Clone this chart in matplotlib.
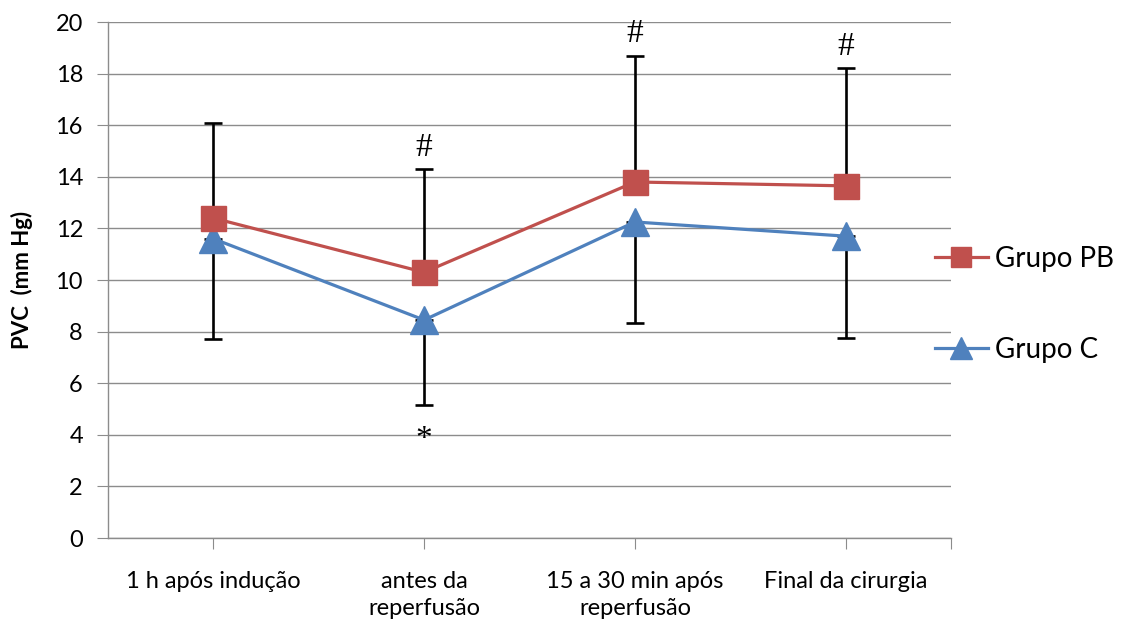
import matplotlib
matplotlib.use("Agg")
import matplotlib.pyplot as plt
import numpy as np

# ---------- data ----------
categories = ["1 h após indução", "antes da\nreperfusão",
              "15 a 30 min após\nreperfusão", "Final da cirurgia"]
pvc_pb = [12.4, 10.3, 13.8, 13.65]
pvc_c = [11.6, 8.45, 12.25, 11.7]
sd_pb = [3.7, 4.0, 4.9, 4.55]     # upper bars, Grupo PB
sd_c = [3.9, 3.3, 3.9, 3.95]      # lower bars, Grupo C
marks_top = ["", "#", "#", "#"]
marks_bottom = ["", "*", "", ""]

RED = "#C0504D"
BLUE = "#4F81BD"
GRID = "#8C8C8C"

plt.rcParams["font.family"] = ["Lato", "DejaVu Sans"]

fig = plt.figure(figsize=(11.44, 6.24), dpi=100)
ax = fig.add_axes([0.0944, 0.1378, 0.7369, 0.8269])

x = np.arange(len(categories))
ax.set_xlim(-0.5, len(categories) - 0.5)
ax.set_ylim(0, 20)

# error bars sit under the markers
ax.errorbar(x, pvc_pb, yerr=[np.zeros(len(x)), sd_pb], fmt="none",
            ecolor="black", elinewidth=1.9, capsize=6.5, capthick=1.9, zorder=2)
ax.errorbar(x, pvc_c, yerr=[sd_c, np.zeros(len(x))], fmt="none",
            ecolor="black", elinewidth=1.9, capsize=6.5, capthick=1.9, zorder=2)

ax.plot(x, pvc_pb, color=RED, lw=2.3, marker="s", ms=18, mec=RED,
        label="Grupo PB", zorder=4)
ax.plot(x, pvc_c, color=BLUE, lw=2.3, marker="^", ms=20, mec=BLUE,
        label="Grupo C", zorder=3)

# significance marks
for i, m in enumerate(marks_top):
    if m:
        ax.text(x[i], pvc_pb[i] + sd_pb[i] + 0.25, m, ha="center", va="bottom",
                fontsize=24, family="Liberation Serif")
for i, m in enumerate(marks_bottom):
    if m:
        ax.text(x[i], pvc_c[i] - sd_c[i] - 0.75, m, ha="center", va="top",
                fontsize=24, family="Liberation Serif")

# axes styling
ax.set_yticks(np.arange(0, 21, 2))
ax.yaxis.grid(True, color=GRID, lw=1.0)
ax.set_axisbelow(True)
ax.tick_params(axis="y", length=8, color=GRID, labelsize=17, pad=10)
ax.set_xticks(list(x) + [len(categories) - 0.5])
ax.set_xticklabels(categories + [""], fontsize=17, linespacing=1.35)
ax.tick_params(axis="x", length=8, color=GRID, pad=16)
for s in ["top", "right"]:
    ax.spines[s].set_visible(False)
for s in ["left", "bottom"]:
    ax.spines[s].set_color(GRID)
    ax.spines[s].set_linewidth(1.0)

ax.set_ylabel("PVC  (mm Hg)", fontsize=16, fontweight="bold", labelpad=16)

leg = ax.legend(loc="center left", bbox_to_anchor=(0.981, 0.4525), frameon=False,
                fontsize=20, handlelength=1.9, handletextpad=0.25,
                labelspacing=2.35, borderpad=0, borderaxespad=0,
                markerscale=0.8)

fig.savefig("out.png", dpi=100)
